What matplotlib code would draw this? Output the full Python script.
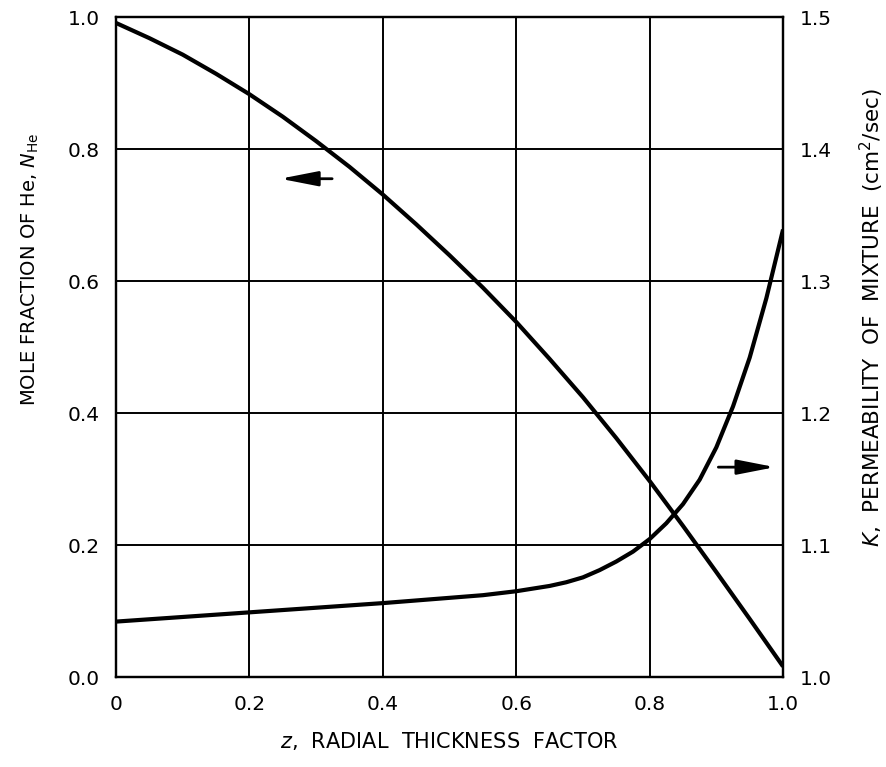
import numpy as np
import matplotlib
matplotlib.use("Agg")
import matplotlib.pyplot as plt

plt.rcParams['font.family'] = ['DejaVu Sans']
plt.rcParams['mathtext.fontset'] = 'dejavusans'

# mole fraction of He (left axis)
z_mole = [0.0, 0.05, 0.1, 0.15, 0.2, 0.25, 0.3, 0.35, 0.4, 0.45, 0.5,
          0.55, 0.6, 0.65, 0.7, 0.75, 0.8, 0.85, 0.9, 0.95, 1.0]
n_he = [0.991, 0.968, 0.943, 0.914, 0.883, 0.849, 0.812, 0.773, 0.731, 0.686, 0.639,
        0.590, 0.538, 0.482, 0.424, 0.362, 0.297, 0.229, 0.159, 0.088, 0.016]

# permeability of mixture (right axis)
z_perm = [0.0, 0.1, 0.2, 0.3, 0.4, 0.5, 0.55, 0.6, 0.65, 0.675, 0.7, 0.725, 0.75,
          0.775, 0.8, 0.825, 0.85, 0.875, 0.9, 0.925, 0.95, 0.975, 1.0]
k_perm = [1.042, 1.0455, 1.049, 1.0525, 1.056, 1.060, 1.062, 1.065, 1.069, 1.0718,
          1.0755, 1.081, 1.0875, 1.095, 1.1045, 1.1165, 1.131, 1.1495, 1.174, 1.205,
          1.242, 1.287, 1.339]

x_ticks = [0.0, 0.2, 0.4, 0.6, 0.8, 1.0]
x_labels = ['0', '0.2', '0.4', '0.6', '0.8', '1.0']
left_ticks = [0.0, 0.2, 0.4, 0.6, 0.8, 1.0]
right_ticks = [1.0, 1.1, 1.2, 1.3, 1.4, 1.5]

fig = plt.figure(figsize=(8.87, 7.67), dpi=100)
ax = fig.add_axes([0.1308, 0.1173, 0.752, 0.8605])
ax2 = ax.twinx()

ax.plot(z_mole, n_he, color='black', lw=3.0, solid_capstyle='butt', zorder=3)
ax2.plot(z_perm, k_perm, color='black', lw=3.0, solid_capstyle='butt', zorder=3)

ax.set_xlim(0, 1)
ax.set_ylim(0, 1)
ax2.set_ylim(1.0, 1.5)

ax.set_xticks(x_ticks)
ax.set_xticklabels(x_labels)
ax.set_yticks(left_ticks)
ax.set_yticklabels(['%.1f' % v for v in left_ticks])
ax2.set_yticks(right_ticks)
ax2.set_yticklabels(['%.1f' % v for v in right_ticks])

ax.grid(True, color='black', lw=1.4)
ax.set_axisbelow(True)
for a in (ax, ax2):
    for s in a.spines.values():
        s.set_linewidth(1.6)
ax.tick_params(axis='x', length=0, pad=13, labelsize=14.5)
ax.tick_params(axis='y', length=0, pad=11.5, labelsize=14.5)
ax2.tick_params(axis='y', length=0, pad=12, labelsize=14.5)

ax.set_xlabel(r'$z$,  RADIAL  THICKNESS  FACTOR', fontsize=15)
ax.xaxis.set_label_coords(0.5, -0.080)
ax.set_ylabel(r'MOLE FRACTION OF He, $N_{\mathrm{He}}$', fontsize=14)
ax.yaxis.set_label_coords(-0.113, 0.618)
ax2.set_ylabel(r'$K$,  PERMEABILITY  OF  MIXTURE  (cm$^2$/sec)', fontsize=15.5,
               rotation=90)
ax2.yaxis.set_label_coords(1.112, 0.545)

arrow = dict(arrowstyle='-|>,head_length=2.3,head_width=0.45', color='black',
             lw=2.0, shrinkA=0, shrinkB=0, mutation_scale=10)
ax.annotate('', xy=(0.246, 0.755), xytext=(0.324, 0.755), arrowprops=arrow)
ax.annotate('', xy=(0.988, 0.318), xytext=(0.903, 0.318), arrowprops=arrow)

fig.savefig('out.png', dpi=100)
